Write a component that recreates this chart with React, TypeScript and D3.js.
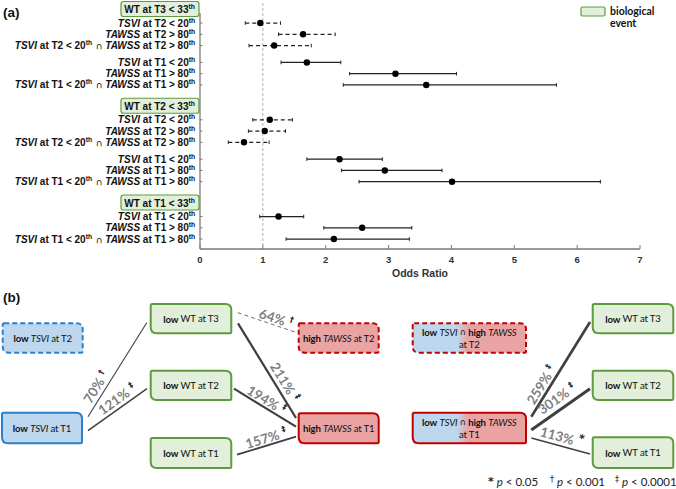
import React from "react";
import * as d3 from "d3";

// ---------- Panel (a) data ----------
const eventTimes = ["T3", "T2", "T1"];
const wtPercentile = 33;
const tsviPercentile = 20;
const tawssPercentile = 80;
const rowGroup = [0, 0, 0, 0, 0, 0, 1, 1, 1, 1, 1, 1, 2, 2, 2];
const rowTime = ["T2", "T2", "T2", "T1", "T1", "T1", "T2", "T2", "T2", "T1", "T1", "T1", "T1", "T1", "T1"];
const rowMetric = ["TSVI", "TAWSS", "both", "TSVI", "TAWSS", "both", "TSVI", "TAWSS", "both", "TSVI", "TAWSS", "both", "TSVI", "TAWSS", "both"];
const oddsRatio = [0.96, 1.64, 1.18, 1.7, 3.11, 3.6, 1.11, 1.03, 0.7, 2.22, 2.94, 4.01, 1.25, 2.58, 2.13];
const ciLower = [0.72, 1.25, 0.78, 1.29, 2.38, 2.28, 0.84, 0.77, 0.45, 1.7, 2.25, 2.53, 0.95, 1.97, 1.37];
const ciUpper = [1.28, 2.15, 1.77, 2.24, 4.08, 5.67, 1.47, 1.36, 1.1, 2.9, 3.85, 6.37, 1.65, 3.37, 3.33];
const xTicks = [0, 1, 2, 3, 4, 5, 6, 7];

// ---------- Panel (b) data ----------
const nodeIds = ["tsviT2", "tsviT1", "wtT3", "wtT2", "wtT1", "tawT2", "tawT1", "bothT2", "bothT1", "rwtT3", "rwtT2", "rwtT1"];
const nodeKind = ["blue", "blue", "green", "green", "green", "red", "red", "grad", "grad", "green", "green", "green"];
const nodeTime = ["T2", "T1", "T3", "T2", "T1", "T2", "T1", "T2", "T1", "T3", "T2", "T1"];
const nodeDashed = [true, false, false, false, false, true, false, true, false, false, false, false];
const edgePct = [70, 121, 64, 211, 194, 157, 259, 301, 113];
const edgeSig = ["†", "‡", "†", "‡", "‡", "‡", "‡", "‡", "*"];
const edgeDashed = [false, false, true, false, false, false, false, false, false];

// ---------- layout (positions only) ----------
const nodeBox: Record<string, [number, number, number, number]> = {
  tsviT2: [2.7, 323.3, 80, 29.4],
  tsviT1: [2, 412.7, 80, 30.6],
  wtT3: [150.7, 304, 80.6, 29.3],
  wtT2: [150.7, 370.7, 80.6, 29.3],
  wtT1: [150.7, 438, 80.6, 30],
  tawT2: [298.7, 323.3, 80, 29.4],
  tawT1: [298.7, 413.3, 80, 30],
  bothT2: [412.7, 323.3, 113.3, 29.4],
  bothT1: [412.7, 412.7, 113.3, 30.6],
  rwtT3: [592.7, 304, 80.6, 29.3],
  rwtT2: [592.7, 370.7, 80.6, 29.3],
  rwtT1: [592.7, 437.3, 80.6, 30.7],
};
const edgeGeom = [
  { a: [88, 416.7], b: [146.7, 322.7], t: 0.265, off: 9 },
  { a: [88, 430.7], b: [147, 388.7], t: 0.58, off: 9 },
  { a: [237.7, 312.7], b: [297, 332.7], t: 0.61, off: 7 },
  { a: [238, 323.3], b: [296, 418], t: 0.67, off: 9.5 },
  { a: [234, 388.7], b: [296, 426.7], t: 0.46, off: 7.5 },
  { a: [237, 454.7], b: [296, 436.7], t: 0.53, off: 7.5 },
  { a: [531.3, 416.7], b: [590, 322], t: 0.29, off: 8.5 },
  { a: [531.3, 430], b: [590, 388.7], t: 0.54, off: 11 },
  { a: [531.3, 438], b: [590, 454], t: 0.48, off: 9 },
];

const GROUP_SPAN = 8.6;
const rowSlots = rowGroup.map((g, r) => {
  const inGroup = rowGroup.map((_, i) => i).filter((i) => rowGroup[i] === g);
  const times = Array.from(new Set(inGroup.map((i) => rowTime[i])));
  const k = times.indexOf(rowTime[r]);
  const inBlock = inGroup.filter((i) => rowTime[i] === rowTime[r]);
  const j = inBlock.indexOf(r);
  return g * GROUP_SPAN + 1.25 + k * 3.5 + j;
});

const x = d3.scaleLinear().domain([0, 7]).range([200, 640]);
const y = d3.scaleLinear().domain([0, 1]).range([9, 20.25]);

const GREEN_FILL = "#e2efda";
const GREEN_STROKE = "#5f9b3e";
const BLUE_FILL = "#bdd7ee";
const BLUE_STROKE = "#2a7fd0";
const RED_FILL = "#e9a3a2";
const RED_STROKE = "#c00000";

const FA = "'Liberation Sans', Arial, sans-serif";
const FB = "Lato, 'Open Sans', sans-serif";
const FM = "'DejaVu Sans', sans-serif";

function Sup({ children }: { children: React.ReactNode }) {
  return (
    <>
      <tspan fontSize={6.8} dy={-4}>{children}</tspan>
      <tspan dy={4}>{"\u200A"}</tspan>
    </>
  );
}

function metricParts(metric: string, time: string, key: string) {
  if (metric === "TSVI")
    return [
      <tspan key={key + "a"} fontStyle="italic">TSVI</tspan>,
      <tspan key={key + "b"}>{` at ${time} < ${tsviPercentile}`}</tspan>,
      <Sup key={key + "c"}>th</Sup>,
    ];
  return [
    <tspan key={key + "a"} fontStyle="italic">TAWSS</tspan>,
    <tspan key={key + "b"}>{` at ${time} > ${tawssPercentile}`}</tspan>,
    <Sup key={key + "c"}>th</Sup>,
  ];
}

function rowLabel(r: number) {
  const m = rowMetric[r];
  const t = rowTime[r];
  if (m === "both")
    return [
      ...metricParts("TSVI", t, "p"),
      <tspan key="cap" fontWeight="normal" fontFamily={FM} fontSize={9} fill="#111">{" \u2229 "}</tspan>,
      ...metricParts("TAWSS", t, "q"),
    ];
  return metricParts(m, t, "p");
}

function diagRect(x0: number, y0: number, w: number, h: number, r = 6, r2 = 1.5) {
  return `M${x0 + r2},${y0} H${x0 + w - r} Q${x0 + w},${y0} ${x0 + w},${y0 + r} V${y0 + h - r2} Q${x0 + w},${y0 + h} ${x0 + w - r2},${y0 + h} H${x0 + r} Q${x0},${y0 + h} ${x0},${y0 + h - r} V${y0 + r2} Q${x0},${y0} ${x0 + r2},${y0} Z`;
}

function nodeText(i: number, cx: number, cy: number) {
  const kind = nodeKind[i];
  const time = nodeTime[i];
  const common = { x: cx, textAnchor: "middle" as const, fontFamily: FB, fontSize: 9.6, fill: "#111", letterSpacing: -0.15 };
  if (kind === "green")
    return (
      <text {...common} y={cy} dominantBaseline="central">
        <tspan fontWeight="bold">low</tspan> WT at {time}
      </text>
    );
  if (kind === "blue")
    return (
      <text {...common} y={cy} dominantBaseline="central">
        <tspan fontWeight="bold">low</tspan> <tspan fontStyle="italic">TSVI</tspan> at {time}
      </text>
    );
  if (kind === "red")
    return (
      <text {...common} y={cy} dominantBaseline="central">
        <tspan fontWeight="bold">high</tspan> <tspan fontStyle="italic">TAWSS</tspan> at {time}
      </text>
    );
  return (
    <g>
      <text {...common} y={cy - 6} dominantBaseline="central">
        <tspan fontWeight="bold">low</tspan> <tspan fontStyle="italic">TSVI</tspan>{"  "}
        <tspan fontFamily={FM} fontSize={8.5}>{"\u2229"}</tspan>{" "}
        <tspan fontWeight="bold">high</tspan> <tspan fontStyle="italic">TAWSS</tspan>
      </text>
      <text {...common} y={cy + 6} dominantBaseline="central">at {time}</text>
    </g>
  );
}

export default function App() {
  const axisColor = "#7a7a7a";
  return (
    <svg width={676} height={489} style={{ position: "absolute", left: 0, top: 0, background: "#fff" }}>
      <defs>
        <linearGradient id="gradBR" x1="0" x2="1" y1="0" y2="0">
          <stop offset="0" stopColor={BLUE_FILL} />
          <stop offset="0.39" stopColor={BLUE_FILL} />
          <stop offset="0.49" stopColor={RED_FILL} />
          <stop offset="1" stopColor={RED_FILL} />
        </linearGradient>
      </defs>

      {/* ---------------- Panel (a) ---------------- */}
      <text x={3} y={17} fontFamily={FA} fontWeight="bold" fontSize={13.5} fill="#111">(a)</text>

      {/* reference line at OR = 1 */}
      <line x1={x(1)} x2={x(1)} y1={3} y2={249} stroke="#b0b0b0" strokeDasharray="3,2" strokeWidth={1} />

      {/* axes */}
      <line x1={x(0)} x2={x(0)} y1={13} y2={249} stroke={axisColor} strokeWidth={1.3} />
      <line x1={x(0)} x2={x(7)} y1={249} y2={249} stroke={axisColor} strokeWidth={1.3} />
      {xTicks.map((t) => (
        <g key={t}>
          <line x1={x(t)} x2={x(t)} y1={249} y2={245} stroke={axisColor} strokeWidth={1} />
          <text x={x(t)} y={262.5} textAnchor="middle" fontFamily={FA} fontWeight="bold" fontSize={9.5} fill="#333">
            {t}
          </text>
        </g>
      ))}
      <text x={x(3.5)} y={277} textAnchor="middle" fontFamily={FA} fontWeight="bold" fontSize={10.5} fill="#333">
        Odds Ratio
      </text>

      {/* row ticks and labels */}
      {rowSlots.map((s, r) => (
        <g key={"row" + r}>
          <line x1={x(0)} x2={x(0) + 2.5} y1={y(s)} y2={y(s)} stroke={axisColor} strokeWidth={1} />
          <text x={196} y={y(s) + 3.5} textAnchor="end" fontFamily={FA} fontWeight="bold" fontSize={10} fill="#111">
            {rowLabel(r)}
          </text>
        </g>
      ))}

      {/* group boxes */}
      {eventTimes.map((t, g) => {
        const cy = y(g * GROUP_SPAN);
        return (
          <g key={"grp" + g}>
            <rect x={121} y={cy - 7.5} width={78} height={15} rx={2.5} fill={GREEN_FILL} stroke={GREEN_STROKE} strokeWidth={1.2} />
            <text x={160} y={cy + 4} textAnchor="middle" fontFamily={FA} fontWeight="bold" fontSize={10} fill="#111">
              WT at {t} {"<"} {wtPercentile}
              <Sup>th</Sup>
            </text>
          </g>
        );
      })}

      {/* error bars */}
      {rowSlots.map((s, r) => {
        const yy = y(s);
        const dashed = rowTime[r] === "T2";
        return (
          <g key={"eb" + r}>
            <line x1={x(ciLower[r])} x2={x(ciUpper[r])} y1={yy} y2={yy} stroke="#222" strokeWidth={1.2} strokeDasharray={dashed ? "4,3" : undefined} />
            <line x1={x(ciLower[r])} x2={x(ciLower[r])} y1={yy - 1.8} y2={yy + 1.8} stroke="#222" strokeWidth={1} />
            <line x1={x(ciUpper[r])} x2={x(ciUpper[r])} y1={yy - 1.8} y2={yy + 1.8} stroke="#222" strokeWidth={1} />
            <circle cx={x(oddsRatio[r])} cy={yy} r={3.2} fill="#000" />
          </g>
        );
      })}

      {/* legend */}
      <rect x={581} y={7} width={24} height={9} rx={1.5} fill={GREEN_FILL} stroke={GREEN_STROKE} strokeWidth={1.2} />
      <text x={610} y={15} fontFamily={FB} fontWeight="bold" fontSize={10.5} fill="#111">biological</text>
      <text x={610} y={27} fontFamily={FB} fontWeight="bold" fontSize={10.5} fill="#111">event</text>

      {/* ---------------- Panel (b) ---------------- */}
      <text x={3} y={302} fontFamily={FA} fontWeight="bold" fontSize={13.5} fill="#111">(b)</text>

      {/* edges */}
      {edgeGeom.map((e, i) => {
        const [ax, ay] = e.a;
        const [bx, by] = e.b;
        const dx = bx - ax;
        const dy = by - ay;
        const len = Math.hypot(dx, dy);
        const ux = dx / len;
        const uy = dy / len;
        const nx = uy;
        const ny = -ux;
        const cx = ax + dx * e.t + nx * e.off;
        const cy = ay + dy * e.t + ny * e.off;
        const ang = (Math.atan2(dy, dx) * 180) / Math.PI;
        const w = edgeDashed[i] ? 1 : 0.55 + (edgePct[i] / 100) * 0.8;
        return (
          <g key={"edge" + i}>
            <line x1={ax} y1={ay} x2={bx} y2={by} stroke={edgeDashed[i] ? "#707070" : "#3f3f3f"} strokeWidth={w} strokeDasharray={edgeDashed[i] ? "4,3" : undefined} />
            <text transform={`translate(${cx},${cy}) rotate(${ang})`} textAnchor="middle" dominantBaseline="central" fontFamily={FB} fontWeight="bold" fontSize={13.5} fill="#808080">
              {edgePct[i]}%
              <tspan dx={4} dy={-4} fontFamily={FM} fontSize={edgeSig[i] === "*" ? 11 : 8} fill="#222">{edgeSig[i]}</tspan>
            </text>
          </g>
        );
      })}

      {/* nodes */}
      {nodeIds.map((id, i) => {
        const [bx, by, bw, bh] = nodeBox[id];
        const kind = nodeKind[i];
        const fill = kind === "green" ? GREEN_FILL : kind === "blue" ? BLUE_FILL : kind === "red" ? RED_FILL : "url(#gradBR)";
        const stroke = kind === "green" ? GREEN_STROKE : kind === "blue" ? BLUE_STROKE : RED_STROKE;
        return (
          <g key={id}>
            <path d={diagRect(bx, by, bw, bh)} fill={fill} stroke={stroke} strokeWidth={2} strokeDasharray={nodeDashed[i] ? "5,3" : undefined} />
            {nodeText(i, bx + bw / 2, by + bh / 2)}
          </g>
        );
      })}

      {/* footnote */}
      <text x={488} y={486} fontFamily={FB} fontSize={11.5} fill="#222">
        <tspan fontFamily={FM} fontWeight="bold" fontSize={11} dy={-1}>*</tspan>
        <tspan dy={1} dx={3} fontStyle="italic">p</tspan> {"<"} 0.05
      </text>
      <text x={550} y={486} fontFamily={FB} fontSize={11.5} fill="#222">
        <tspan fontFamily={FM} fontSize={8} dy={-4}>†</tspan>
        <tspan dy={4} dx={3} fontStyle="italic">p</tspan> {"<"} 0.001
      </text>
      <text x={615} y={486} fontFamily={FB} fontSize={11.5} fill="#222">
        <tspan fontFamily={FM} fontSize={8} dy={-4}>‡</tspan>
        <tspan dy={4} dx={3} fontStyle="italic">p</tspan> {"<"} 0.0001
      </text>
    </svg>
  );
}
